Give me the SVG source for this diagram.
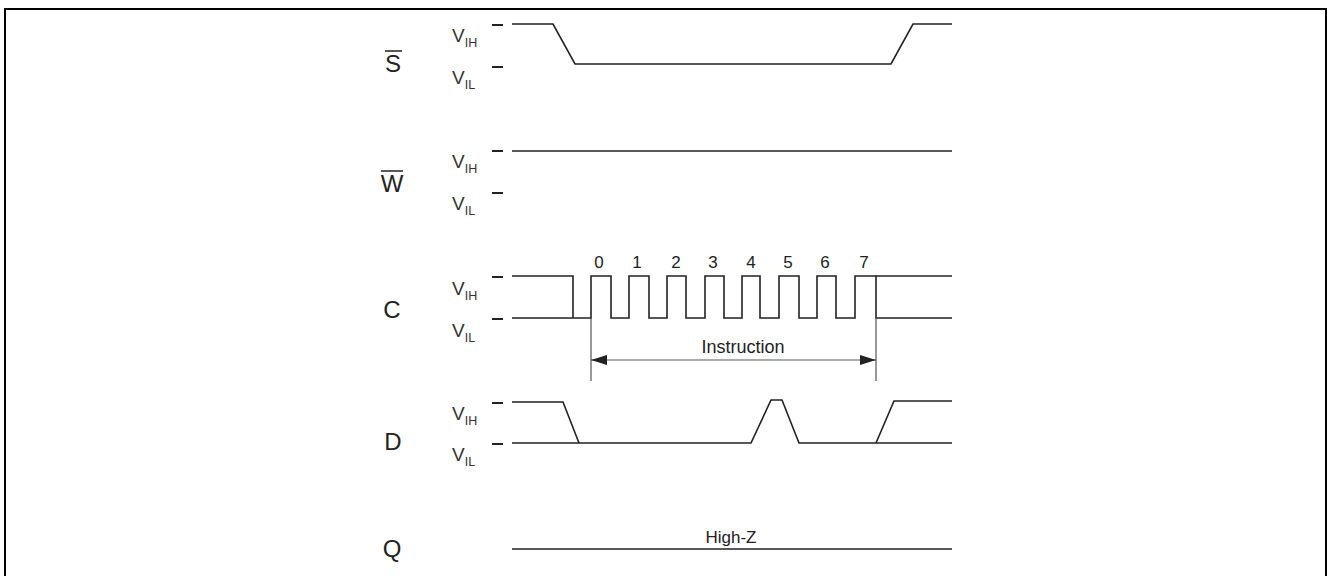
<svg xmlns="http://www.w3.org/2000/svg" width="1327" height="576" viewBox="0 0 1327 576">
<defs>
<style>
.sig{fill:none;stroke:#222;stroke-width:1.6;stroke-linejoin:miter}
.tick{stroke:#222;stroke-width:2}
.dim{fill:none;stroke:#555;stroke-width:1.2}
.lbl{font-family:"Liberation Sans",Arial,sans-serif;font-size:24px;fill:#222;text-anchor:middle}
.v{font-family:"Liberation Sans",Arial,sans-serif;font-size:19px;fill:#333}
.sub{font-size:12.5px}
.num{font-family:"Liberation Sans",Arial,sans-serif;font-size:17px;fill:#222;text-anchor:middle}
.txt{font-family:"Liberation Sans",Arial,sans-serif;font-size:18px;fill:#222;text-anchor:middle}
.ov{stroke:#222;stroke-width:1.5}
</style>
<marker id="ah" viewBox="0 0 16 10" refX="16" refY="5" markerWidth="16" markerHeight="10" markerUnits="userSpaceOnUse" orient="auto-start-reverse">
<path d="M0,0 L16,5 L0,10 Z" fill="#222"/>
</marker>
</defs>
<rect x="5" y="9" width="1321" height="600" fill="none" stroke="#000" stroke-width="2"/>

<g id="row-S">
<text class="lbl" x="393" y="72">S</text>
<line class="ov" x1="385" y1="51" x2="402" y2="51"/>
<text class="v" x="452" y="42">V<tspan class="sub" dy="5">IH</tspan></text>
<text class="v" x="452" y="84">V<tspan class="sub" dy="5">IL</tspan></text>
<line class="tick" x1="492" y1="25" x2="503" y2="25"/>
<line class="tick" x1="492" y1="67" x2="503" y2="67"/>
</g>
<g id="row-W">
<text class="lbl" x="392" y="192">W</text>
<line class="ov" x1="381" y1="171" x2="403" y2="171"/>
<text class="v" x="452" y="168">V<tspan class="sub" dy="5">IH</tspan></text>
<text class="v" x="452" y="210">V<tspan class="sub" dy="5">IL</tspan></text>
<line class="tick" x1="492" y1="151" x2="503" y2="151"/>
<line class="tick" x1="492" y1="193" x2="503" y2="193"/>
</g>
<g id="row-C">
<text class="lbl" x="392" y="318">C</text>
<text class="v" x="452" y="295">V<tspan class="sub" dy="5">IH</tspan></text>
<text class="v" x="452" y="337">V<tspan class="sub" dy="5">IL</tspan></text>
<line class="tick" x1="492" y1="277" x2="503" y2="277"/>
<line class="tick" x1="492" y1="319" x2="503" y2="319"/>
<text class="num" x="599" y="268">0</text>
<text class="num" x="637" y="268">1</text>
<text class="num" x="676" y="268">2</text>
<text class="num" x="713" y="268">3</text>
<text class="num" x="751" y="268">4</text>
<text class="num" x="788" y="268">5</text>
<text class="num" x="825" y="268">6</text>
<text class="num" x="864" y="268">7</text>
<text class="txt" x="743" y="353">Instruction</text>
</g>
<g id="row-D">
<text class="lbl" x="393" y="450">D</text>
<text class="v" x="452" y="420">V<tspan class="sub" dy="5">IH</tspan></text>
<text class="v" x="452" y="461">V<tspan class="sub" dy="5">IL</tspan></text>
<line class="tick" x1="492" y1="403" x2="503" y2="403"/>
<line class="tick" x1="492" y1="444" x2="503" y2="444"/>
</g>
<g id="row-Q">
<text class="lbl" x="392" y="557">Q</text>
<text class="num" x="731" y="543">High-Z</text>
</g>

<g id="connectors">
<polyline class="sig" points="512,24 553,24 575,64 891,64 913,24 952,24"/>
<line class="sig" x1="512" y1="151" x2="952" y2="151"/>
<polyline class="sig" points="512,276 573,276 573,318"/>
<polyline class="sig" points="512,318 591,318 591,276 611,276 611,318 629,318 629,276 649,276 649,318 667,318 667,276 686,276 686,318 705,318 705,276 724,276 724,318 742,318 742,276 760,276 760,318 779,318 779,276 799,276 799,318 817,318 817,276 836,276 836,318 855,318 855,276 876,276 876,318 952,318"/>
<line class="sig" x1="876" y1="276" x2="952" y2="276"/>
<line class="dim" x1="591" y1="318" x2="591" y2="381"/>
<line class="dim" x1="876" y1="318" x2="876" y2="381"/>
<line class="dim" x1="591" y1="360" x2="876" y2="360" marker-start="url(#ah)" marker-end="url(#ah)"/>
<polyline class="sig" points="512,402 563,402 579,443"/>
<polyline class="sig" points="512,443 751,443 771,400 782,400 799,443 952,443"/>
<polyline class="sig" points="876,443 894,401 952,401"/>
<line class="sig" x1="512" y1="549" x2="952" y2="549"/>
</g>
</svg>
